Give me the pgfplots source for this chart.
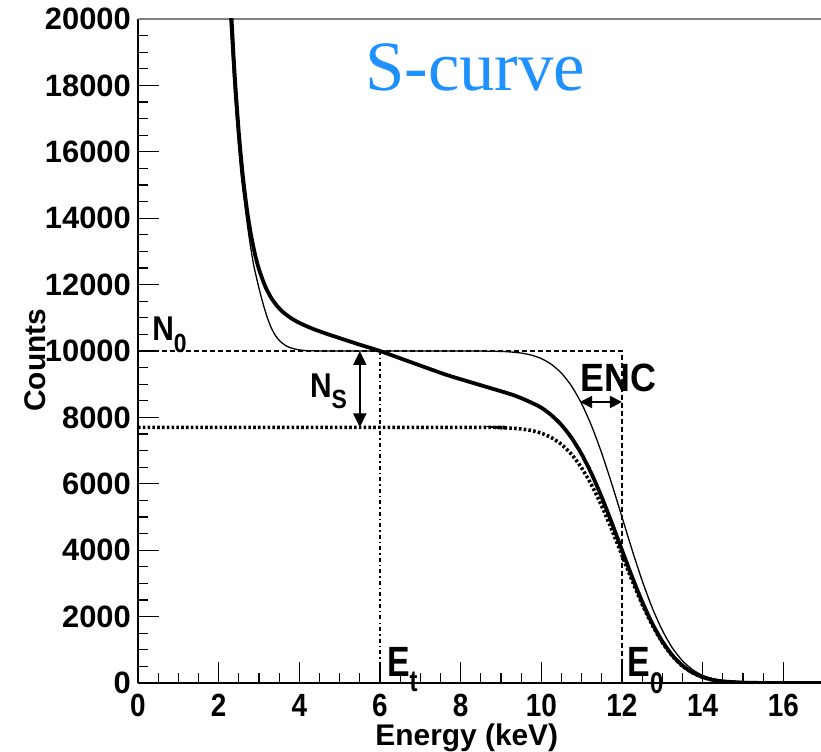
\documentclass[border=0pt]{standalone}
\usepackage{fontspec}
\setmainfont{Liberation Sans}
\newfontfamily\seriffont{Liberation Serif}
\usepackage{pgfplots}
\pgfplotsset{compat=1.18}
\usetikzlibrary{arrows.meta}
\definecolor{scurve}{RGB}{30,144,255}

\begin{document}
\begin{tikzpicture}
\begin{axis}[
 scale only axis, width=683.6bp, height=664bp,
 xmin=0, xmax=16.95, ymin=0, ymax=20000,
 axis x line*=bottom, axis y line*=left,
 axis line style={line width=1.6bp, -},
 xtick={0,2,...,16}, ytick={0,2000,...,20000},
 minor x tick num=3, minor y tick num=3,
 tick align=inside,
 major tick length=21bp, minor tick length=10bp,
 tick style={line width=1.2bp, black},
 scaled y ticks=false,
 /pgf/number format/1000 sep={},
 /pgf/number format/assume math mode=true,
 xticklabel style={font=\fontsize{28}{30}\selectfont\bfseries, anchor=north, inner sep=0pt, yshift=-11bp, yscale=1.15},
 yticklabel style={font=\fontsize{31}{32}\selectfont\bfseries, anchor=east, inner sep=0pt, xshift=-7bp},
 xlabel={Energy (keV)}, ylabel={Counts},
 label style={font=\fontsize{30}{32}\selectfont\bfseries, inner sep=0pt},
 x label style={at={(axis description cs:0.481,-0.0617)}, anchor=north},
 y label style={at={(axis description cs:-0.136,0.486)}, anchor=base},
 clip mode=individual,
]
\coordinate (O) at (axis cs:0,0);
\draw[gray, line width=2bp] (rel axis cs:0,1) -- (rel axis cs:1,1);

% reference lines
\draw[line width=1.8bp, dash pattern=on 5bp off 3bp] (axis cs:0,10000) -- (axis cs:12,10000) -- (axis cs:12,0);
\draw[line width=1.8bp, dash pattern=on 4bp off 3bp on 1.5bp off 3bp] (axis cs:6,10000) -- (axis cs:6,0);

% dotted: photopeak part only
\addplot[black, line width=3.6bp, dash pattern=on 2.6bp off 2.2bp, smooth, tension=0.4] coordinates {
(0,7700) (8.5,7698) (9.0,7690) (9.25,7677) (9.5,7652) (9.75,7606) (10.0,7524)
(10.25,7391) (10.5,7186) (10.75,6887) (11.0,6478) (11.25,5955) (11.5,5325)
(11.75,4610) (12.0,3850) (12.25,3090) (12.5,2375) (12.75,1745) (13.0,1222)
(13.25,813) (13.5,514) (13.75,309) (14.0,176) (14.25,94) (14.5,48) (15.0,10)
(15.5,2) (16.0,0) (17.0,0)
};

% thin: ideal S-curve
\addplot[black, line width=1.3bp, smooth, tension=0.4] coordinates {
(2.20,21960) (2.28,20000) (2.40,17620) (2.55,15400) (2.73,13645) (2.86,12641)
(3.00,11891) (3.10,11429) (3.20,11027) (3.30,10709) (3.40,10480) (3.50,10322)
(3.65,10171) (3.80,10089) (4.00,10033) (4.20,10010) (4.50,10002) (5.00,10000)
(8.00,10000) (8.50,9998) (9.00,9987)
(9.25,9970) (9.50,9938) (9.75,9878) (10.00,9772) (10.25,9599) (10.50,9332)
(10.75,8944) (11.00,8413) (11.25,7734) (11.50,6915) (11.75,5987) (12.00,5000)
(12.25,4013) (12.50,3085) (12.75,2266) (13.00,1587) (13.25,1056) (13.50,668)
(13.75,401) (14.00,228) (14.25,122) (14.50,62) (15.00,13) (15.50,2) (16.00,0) (17.00,0)
};

% thick: with charge sharing
\addplot[black, line width=3.8bp, smooth, tension=0.4] coordinates {
(2.24,22167) (2.32,20000) (2.40,18272) (2.50,16570) (2.60,15268) (2.70,14272)
(2.80,13507) (2.90,12918) (3.00,12461) (3.15,11959) (3.30,11606) (3.45,11354)
(3.60,11167) (3.80,10985) (4.00,10847) (4.30,10685) (4.60,10550) (5.00,10388)
(5.50,10190) (6.00,10000) (6.82,9640) (7.66,9277) (8.48,8976) (9.30,8675) (9.72,8464)
(10.00,8293) (10.25,8067) (10.50,7772) (10.75,7385) (11.00,6893) (11.25,6292)
(11.50,5592) (11.75,4815) (12.00,4003) (12.25,3200) (12.50,2451) (12.75,1795)
(13.00,1254) (13.25,832) (13.50,525) (13.75,315) (14.00,179) (14.25,95)
(14.50,49) (15.00,10) (15.50,2) (16.00,0) (17.00,0)
};

% arrows
\draw[line width=2bp, {Triangle[width=13bp,length=14bp]}-{Triangle[width=13bp,length=14bp]}] (axis cs:5.5,10000) -- (axis cs:5.5,7700);
\draw[line width=2bp, {Triangle[width=12bp,length=12bp]}-{Triangle[width=12bp,length=12bp]}] (axis cs:10.96,8464) -- (axis cs:12.0,8464);

% labels
\node[anchor=base west, inner sep=0pt, yscale=1.15, font=\fontsize{30}{30}\selectfont\bfseries] at (axis cs:0.35,10331) {N\raisebox{-11bp}{\fontsize{23}{23}\selectfont 0}};
\node[anchor=base west, inner sep=0pt, yscale=1.15, font=\fontsize{30}{30}\selectfont\bfseries] at (axis cs:4.26,8614) {N\raisebox{-10bp}{\fontsize{23}{23}\selectfont S}};
\node[anchor=base west, inner sep=0pt, yscale=1.1, font=\fontsize{36}{36}\selectfont\bfseries] at (axis cs:10.96,8765) {ENC};
\node[anchor=base west, inner sep=0pt, yscale=1.25, font=\fontsize{34}{34}\selectfont\bfseries] at (axis cs:6.17,181) {E\raisebox{-12bp}{\fontsize{24}{24}\selectfont t}};
\node[anchor=base west, inner sep=0pt, yscale=1.25, font=\fontsize{34}{34}\selectfont\bfseries] at (axis cs:12.13,181) {E\raisebox{-13bp}{\fontsize{24}{24}\selectfont 0}};
\node[anchor=base, inner sep=0pt, text=scurve, font=\seriffont\fontsize{71}{72}\selectfont] at (axis cs:8.36,17861) {S-curve};
\end{axis}
\pgfresetboundingbox
\path[use as bounding box] ([shift={(-138bp,-69bp)}]O) rectangle ++(821bp,752bp);
\end{tikzpicture}
\end{document}
